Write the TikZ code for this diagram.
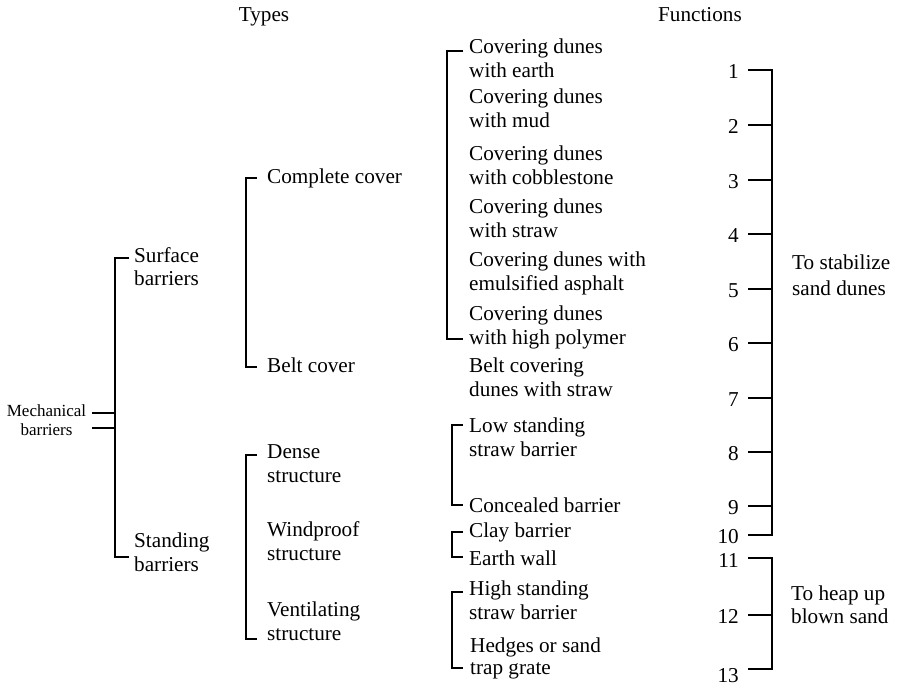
\documentclass[tikz,border=0pt]{standalone}
\usepackage{fontspec}
\setmainfont{Liberation Serif}
\begin{document}
\begin{tikzpicture}[x=1pt,y=-1pt,
  br/.style={line width=1.9pt},
  txt/.style={inner sep=0pt, anchor=base west, align=left, font=\fontsize{21.2}{24}\selectfont},
  num/.style={inner sep=0pt, anchor=base east, font=\fontsize{21.2}{24}\selectfont},
  hdr/.style={inner sep=0pt, anchor=base, font=\fontsize{21.2}{24}\selectfont}]
\useasboundingbox (0,0) rectangle (897,685);

% headers
\node[hdr] (types) at (264,21.7) {Types};
\node[hdr] (funcs) at (700,22) {Functions};

% level 0 (base anchor = baseline of last line)
\node[inner sep=0pt, anchor=base, align=center, font=\fontsize{17}{19}\selectfont] (mech) at (46.5,435.5) {Mechanical\\barriers};

% level 1
\node[txt, font=\fontsize{21.2}{23}\selectfont] (surf) at (134,285.5) {Surface\\barriers};
\node[txt] (stand) at (134,571.5) {Standing\\barriers};

% level 2
\node[txt] (compl) at (267,183.5) {Complete cover};
\node[txt] (beltc) at (267,372.5) {Belt cover};
\node[txt] (dense) at (267,482.5) {Dense\\structure};
\node[txt] (windp) at (267,560.5) {Windproof\\structure};
\node[txt] (venti) at (267,640.5) {Ventilating\\structure};

% level 3
\node[txt] (c1) at (469,77.5) {Covering dunes\\with earth};
\node[txt] (c2) at (469,127.5) {Covering dunes\\with mud};
\node[txt] (c3) at (469,184.5) {Covering dunes\\with cobblestone};
\node[txt] (c4) at (469,237.5) {Covering dunes\\with straw};
\node[txt] (c5) at (469,290.5) {Covering dunes with\\emulsified asphalt};
\node[txt] (c6) at (469,344.5) {Covering dunes\\with high polymer};
\node[txt] (c7) at (469,396.5) {Belt covering\\dunes with straw};
\node[txt] (c8) at (469,456.5) {Low standing\\straw barrier};
\node[txt] (c9) at (469,512.5) {Concealed barrier};
\node[txt] (c10) at (469,537.5) {Clay barrier};
\node[txt] (c11) at (469,565.5) {Earth wall};
\node[txt] (c12) at (469,619.5) {High standing\\straw barrier};
\node[txt, font=\fontsize{21.2}{22}\selectfont] (c13) at (470,674.5) {Hedges or sand\\trap grate};

% numbers
\foreach \n/\y in {1/70,2/125,3/180,4/234,5/289,6/343,7/398,8/452,9/506,10/535,11/558,12/615,13/669}{
  \coordinate (t\n) at (748,\y);
}
\foreach \n/\y in {1/78,2/133,3/188,4/242,5/297,6/351,7/406,8/460,9/514,10/543,11/567,12/623,13/682}{
  \node[num] (n\n) at (739,\y) {\n};
}

% functions
\node[txt, font=\fontsize{21.2}{26}\selectfont] (stab) at (792,295) {To stabilize\\sand dunes};
\node[txt, font=\fontsize{21.2}{23.5}\selectfont] (heap) at (791,623.5) {To heap up\\blown sand};

% bracket coordinates
\coordinate (v1) at (115,0);
\coordinate (v2) at (246,0);
\coordinate (v3a) at (447,0);
\coordinate (v3b) at (452,0);
\coordinate (v4) at (772,0);

\coordinate (mt1) at (92,413);
\coordinate (mt2) at (92,428);
\coordinate (sb-t) at (129,258);
\coordinate (st-t) at (129,557);

\coordinate (cc-t) at (257,178);
\coordinate (bc-t) at (257,367);
\coordinate (ds-t) at (257,455);
\coordinate (vs-t) at (257,639);

\coordinate (c1-t) at (463,51);
\coordinate (c6-t) at (463,339);
\coordinate (ls-t) at (463,425);
\coordinate (cb-t) at (463,505);
\coordinate (cl-t) at (463,532);
\coordinate (ew-t) at (463,557);
\coordinate (hs-t) at (463,592);
\coordinate (hg-t) at (463,668);

% brackets
\draw[br] (mt1) -- (mt1 -| v1);
\draw[br] (mt2) -- (mt2 -| v1);
\draw[br] (sb-t) -| (v1 |- st-t) -- (st-t);

\draw[br] (cc-t) -| (v2 |- bc-t) -- (bc-t);
\draw[br] (ds-t) -| (v2 |- vs-t) -- (vs-t);

\draw[br] (c1-t) -| (v3a |- c6-t) -- (c6-t);
\draw[br] (ls-t) -| (v3b |- cb-t) -- (cb-t);
\draw[br] (cl-t) -| (v3b |- ew-t) -- (ew-t);
\draw[br] (hs-t) -| (v3b |- hg-t) -- (hg-t);

\draw[br] (t1) -| (v4 |- t10) -- (t10);
\foreach \n in {2,...,9}{ \draw[br] (t\n) -- (t\n -| v4); }
\draw[br] (t11) -| (v4 |- t13) -- (t13);
\draw[br] (t12) -- (t12 -| v4);
\end{tikzpicture}
\end{document}
